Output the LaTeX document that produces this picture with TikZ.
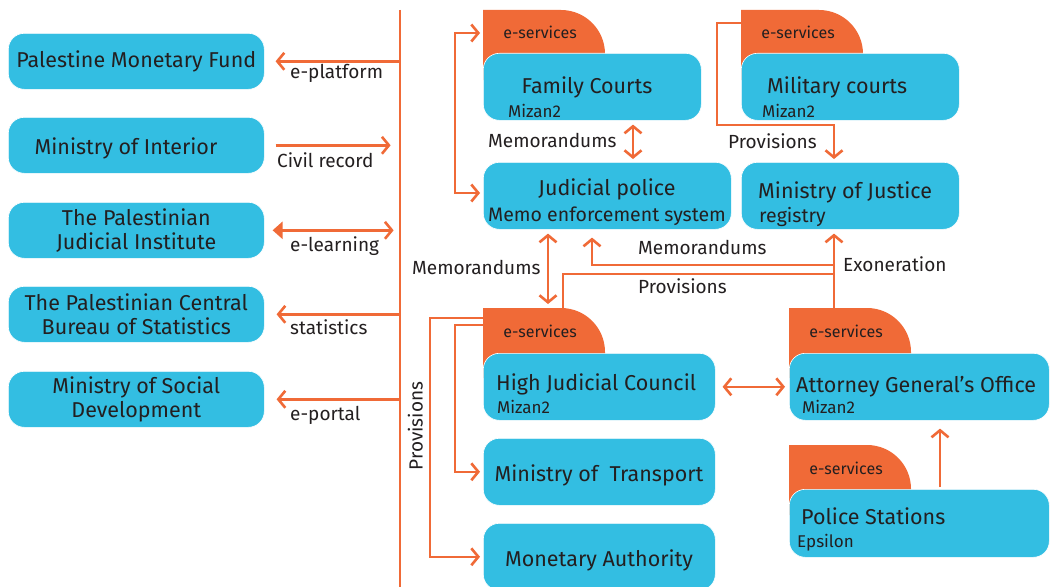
\documentclass[tikz,border=0pt]{standalone}
\usepackage{fontspec}
\setmainfont{Fira Sans}
\usetikzlibrary{arrows.meta}
\definecolor{eblue}{RGB}{51,190,226}
\definecolor{eorange}{RGB}{240,106,55}
\definecolor{etext}{RGB}{35,31,32}

\begin{document}
\begin{tikzpicture}[x=1pt,y=-1pt,
  conn/.style={draw=eorange,line width=2.6pt},
  >={Straight Barb[length=7pt,width=17pt]},
  box/.style={fill=eblue,draw=white,line width=0.6pt,rounded corners=16pt,inner sep=0pt,text=etext,align=center,anchor=north west,font=\fontsize{21.5}{24}\selectfont},
  maintxt/.style={text=etext,inner sep=0pt,anchor=west,text height=14.8pt,text depth=0pt,font=\fontsize{21.5}{24}\selectfont},
  sub/.style={maintxt,text height=11.7pt,font=\fontsize{17}{20}\selectfont},
  lab/.style={maintxt,text height=13.1pt,font=\fontsize{19}{22}\selectfont},
  tabtext/.style={text=etext,inner sep=0pt,text height=10pt,text depth=0pt,font=\fontsize{16}{19}\selectfont},
  etab/.pic={
    \fill[eorange] (0,70) -- (0,0) -- (78,0) arc[start angle=90,end angle=0,radius=44pt] -- (122,70) -- cycle;
    \coordinate (-nw) at (0,0);
    \node[tabtext] (-txt) at (57,24) {e-services};
  }]
  \useasboundingbox (0,0) rectangle (1056,586);
  \fill[white] (0,0) rectangle (1056,586);

  %left column
  \node[box,minimum width=256pt,minimum height=56pt] (pmf) at (8,33) {Palestine Monetary Fund};
  \node[box,minimum width=256pt,minimum height=56pt] (moi) at (8,117) {};
  \node[maintxt,anchor=center] (moitxt) at (126,147) {Ministry of Interior};
  \node[box,minimum width=256pt,minimum height=56pt] (pji) at (8,202) {The Palestinian\\Judicial Institute};
  \node[box,minimum width=256pt,minimum height=56pt] (pcbs) at (8,286) {The Palestinian Central\\Bureau of Statistics};
  \node[box,minimum width=256pt,minimum height=56pt] (mosd) at (8,371) {Ministry of Social\\Development};

  %spine
  \coordinate (spinetop) at (400,10);
  \coordinate (spinebot) at (400,590);
  \draw[conn] (spinetop) -- (spinebot);

  \draw[conn,->] (spinetop |- pmf.east) -- ([xshift=11pt]pmf.east);
  \node[lab] (lplat) at (290,72) {e-platform};
  \draw[conn,->] ([xshift=11pt]moi.east) -- ([xshift=126pt]moi.east);
  \node[lab] (lcivil) at (277,161) {Civil record};
  \draw[conn,{Triangle[length=10pt,width=17pt]}->] ([xshift=8pt]pji.east) -- ([xshift=129pt]pji.east);
  \node[lab] (llearn) at (290,245) {e-learning};
  \draw[conn,->] (spinetop |- pcbs.east) -- ([xshift=12pt]pcbs.east);
  \node[lab] (lstat) at (290,328) {statistics};
  \draw[conn,->] (spinetop |- mosd.east) -- ([xshift=12pt]mosd.east);
  \node[lab] (lport) at (290,414) {e-portal};

  %courts
  \pic (fctab) at (483,10) {etab};
  \node[box,minimum width=218pt,minimum height=67pt] (fc) at (483,53) {};
  \node[maintxt,anchor=center] (fctxt) at (587,86) {Family Courts};
  \node[sub] (fcsub) at (508,112) {Mizan2};

  \pic (mctab) at (741,10) {etab};
  \node[box,minimum width=218pt,minimum height=67pt] (mc) at (741,53) {};
  \node[maintxt] (mctxt) at (767,86) {Military courts};
  \node[sub] (mcsub) at (762,112) {Mizan2};

  \node[box,minimum width=248pt,minimum height=67pt] (jp) at (483,162) {};
  \node[maintxt,anchor=center] (jptxt) at (607,188) {Judicial police};
  \node[maintxt,anchor=center,text height=13.4pt,font=\fontsize{19.5}{22}\selectfont] (jpsub) at (607,215) {Memo enforcement system};

  \node[box,minimum width=218pt,minimum height=67pt] (moj) at (741,162) {};
  \node[maintxt] (mojtxt) at (758,191) {Ministry of Justice};
  \node[sub,text height=13.4pt,font=\fontsize{19.5}{22}\selectfont] (mojsub) at (759,216) {registry};

  %council
  \pic (hjctab) at (483,308) {etab};
  \node[box,minimum width=232pt,minimum height=67pt] (hjc) at (483,353) {};
  \node[maintxt] (hjctxt) at (496,383) {High Judicial Council};
  \node[sub] (hjcsub) at (497,408) {Mizan2};

  \node[box,minimum width=232pt,minimum height=67pt] (mot) at (483,438) {};
  \node[maintxt,anchor=center] (mottxt) at (599,474) {Ministry of\ \ Transport};
  \node[box,minimum width=232pt,minimum height=67pt] (ma) at (483,523) {};
  \node[maintxt,anchor=center] (matxt) at (599,559) {Monetary Authority};

  \pic (agotab) at (789,308) {etab};
  \node[box,minimum width=260pt,minimum height=67pt] (ago) at (789,353) {};
  \node[maintxt] (agotxt) at (796,385) {Attorney General’s Office};
  \node[sub] (agosub) at (802,408) {Mizan2};

  \pic (pstab) at (789,445) {etab};
  \node[box,minimum width=260pt,minimum height=68pt] (ps) at (789,489) {};
  \node[maintxt] (pstxt) at (801,517) {Police Stations};
  \node[sub] (pssub) at (797,542) {Epsilon};

  %links
  \draw[conn,<->] ([shift={(-3,23)}]fctab-nw) -- ++(-25,0) |- ([shift={(-3,31)}]jp.north west);
  \draw[conn,<->] ([shift={(150,4)}]fc.south west) -- ([shift={(150,-3)}]jp.north west);
  \node[lab] (lmemo1) at (488,141) {Memorandums};
  \draw[conn,->] ([yshift=-13pt]mctab-nw) -- ++(-24,0) |- ++(117,102) -- ([shift={(93,-3)}]moj.north west);
  \node[lab] (lprov1) at (728,142) {Provisions};
  \draw[conn,<->] ([shift={(65,4)}]jp.south west) -- ([shift={(65,-4)}]hjctab-nw);
  \node[lab] (lmemo2) at (412,268) {Memorandums};
  \draw[conn,->] ([xshift=45pt]agotab-nw) -- ([shift={(93,4)}]moj.south west);
  \node[lab] (lexon) at (843,265) {Exoneration};
  \draw[conn,->] ([shift={(45,-43)}]agotab-nw) -| ([shift={(109,8)}]jp.south west);
  \node[lab] (lmemo3) at (638,248) {Memorandums};
  \draw[conn] ([xshift=80pt]hjctab-nw) |- ([shift={(45,-34)}]agotab-nw);
  \node[lab] (lprov2) at (638,287) {Provisions};
  \draw[conn,<->] ([xshift=7pt]hjc.east) -- ([xshift=-4pt]ago.west);
  \draw[conn,->] ([shift={(151,-2)}]ps.north west) -- ([shift={(151,8)}]ago.south west);
  \draw[conn,->] ([yshift=-10pt]hjctab-nw) -- ++(-53,0) |- ([xshift=-3pt]ma.west);
  \draw[conn,->] ([yshift=-17pt]hjctab-nw) -- ++(-28,0) |- ([xshift=-3pt]mot.west);
  \node[lab,rotate=90,anchor=center] (lprov3) at (416,426) {Provisions};
\end{tikzpicture}
\end{document}
